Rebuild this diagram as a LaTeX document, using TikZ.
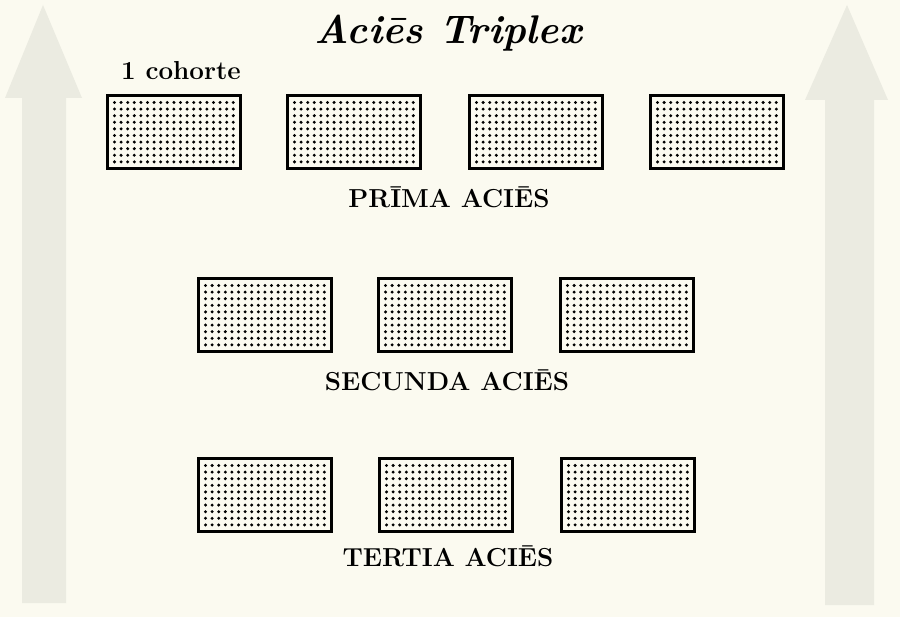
\documentclass[tikz,border=0pt]{standalone}
\usepackage{fontspec}
\definecolor{paper}{HTML}{FBFAF0}
\definecolor{arrowgrey}{HTML}{EBEBE1}
\tikzset{
  cohort/.style={draw=black, line width=3pt, minimum width=133pt, minimum height=73pt, inner sep=0pt,
    path picture={
      \foreach \i in {0,...,18} \foreach \j in {0,...,9}
        \fill[black] ([xshift=7pt,yshift=-7pt]path picture bounding box.north west) ++(\i*6.6,\j*6.6) circle (1.65pt);
    }},
  rowlabel/.style={font=\fontsize{26}{28}\selectfont\bfseries, inner sep=0pt},
  bigarrow/.style={fill=arrowgrey, draw=none},
}
\begin{document}
\begin{tikzpicture}[x=1pt,y=-1pt]
\useasboundingbox (0,0) rectangle (900,617);
\fill[paper] (0,0) rectangle (900,617);
% big arrows
\fill[bigarrow] (43,5) -- (82,98) -- (66,98) -- (66,603) -- (22,603) -- (22,98) -- (5,98) -- cycle;
\fill[bigarrow] (847,5) -- (888,100) -- (874,100) -- (874,605) -- (825,605) -- (825,100) -- (805,100) -- cycle;
% title
\node[font=\fontsize{40}{44}\selectfont\bfseries\itshape, inner sep=0pt] (title) at (448,33) {Aciēs Triplex};
% prima acies
\node[font=\fontsize{26}{28}\selectfont\bfseries, inner sep=0pt, anchor=base west] (coh) at (121,80) {1 cohorte};
\node[cohort] (p1) at (174,132) {};
\node[cohort] (p2) at (354,132) {};
\node[cohort] (p3) at (536,132) {};
\node[cohort] (p4) at (717,132) {};
\node[rowlabel, anchor=base] (l1) at (449,208) {PRĪMA ACIĒS};
% secunda acies
\node[cohort] (s1) at (265,315) {};
\node[cohort] (s2) at (445,315) {};
\node[cohort] (s3) at (627,315) {};
\node[rowlabel, anchor=base] (l2) at (447,391) {SECUNDA ACIĒS};
% tertia acies
\node[cohort] (t1) at (265,495) {};
\node[cohort] (t2) at (446,495) {};
\node[cohort] (t3) at (628,495) {};
\node[rowlabel, anchor=base] (l3) at (448,566) {TERTIA ACIĒS};
\end{tikzpicture}
\end{document}
